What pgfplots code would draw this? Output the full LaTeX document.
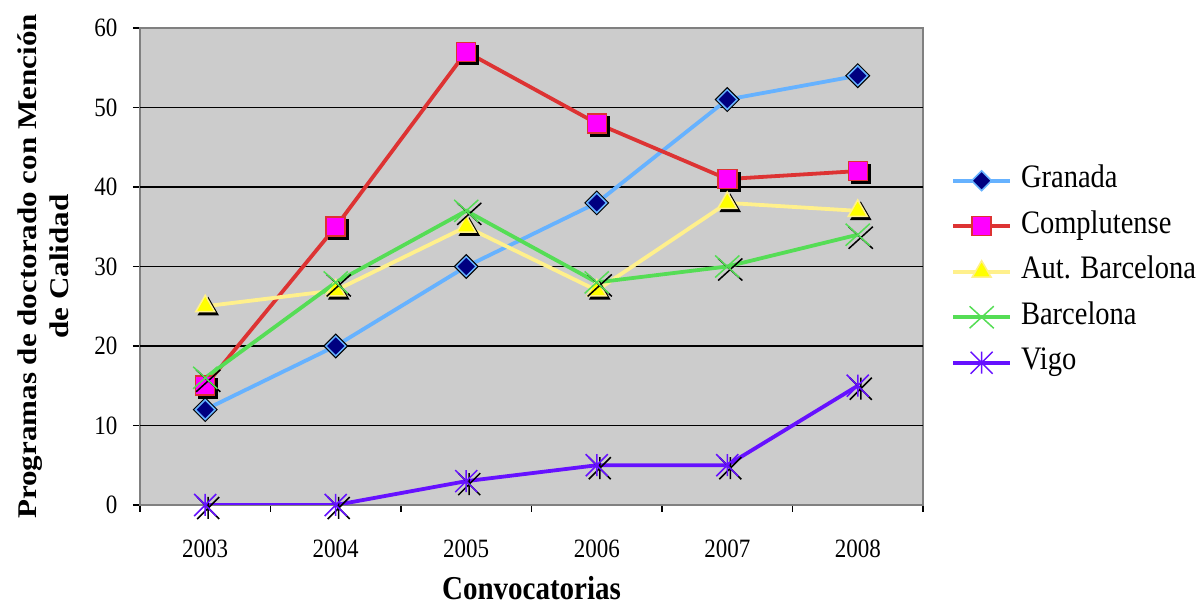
\documentclass[border=0pt]{standalone}
\usepackage{fontspec}
\setmainfont{Liberation Serif}
\usepackage{graphicx}
\usepackage{pgfplots}
\pgfplotsset{compat=1.18}

% Excel-like markers
\pgfdeclareplotmark{xstar}{%
  \pgfpathmoveto{\pgfqpoint{-\pgfplotmarksize}{-\pgfplotmarksize}}%
  \pgfpathlineto{\pgfqpoint{\pgfplotmarksize}{\pgfplotmarksize}}%
  \pgfpathmoveto{\pgfqpoint{-\pgfplotmarksize}{\pgfplotmarksize}}%
  \pgfpathlineto{\pgfqpoint{\pgfplotmarksize}{-\pgfplotmarksize}}%
  \pgfpathmoveto{\pgfqpoint{0pt}{-\pgfplotmarksize}}%
  \pgfpathlineto{\pgfqpoint{0pt}{\pgfplotmarksize}}%
  \pgfusepathqstroke}
\pgfdeclareplotmark{xcross}{%
  \pgfpathmoveto{\pgfqpoint{-1.1\pgfplotmarksize}{-\pgfplotmarksize}}%
  \pgfpathlineto{\pgfqpoint{1.1\pgfplotmarksize}{\pgfplotmarksize}}%
  \pgfpathmoveto{\pgfqpoint{-1.1\pgfplotmarksize}{\pgfplotmarksize}}%
  \pgfpathlineto{\pgfqpoint{1.1\pgfplotmarksize}{-\pgfplotmarksize}}%
  \pgfusepathqstroke}

\definecolor{granLine}{RGB}{102,178,255}
\definecolor{granFill}{RGB}{0,0,128}
\definecolor{compLine}{RGB}{221,51,51}
\definecolor{compFill}{RGB}{255,0,255}
\definecolor{autLine}{RGB}{255,240,140}
\definecolor{autFill}{RGB}{255,255,0}
\definecolor{barLine}{RGB}{85,221,85}
\definecolor{vigoLine}{RGB}{102,17,255}
\definecolor{plotbg}{RGB}{204,204,204}

% text in the reference is a bit taller than wide
\newcommand{\tall}[1]{\scalebox{1}[1.15]{#1}}

\pgfplotstableread{
x  gra com aut bar vig
0  12  15  25  16  0
1  20  35  27  28  0
2  30  57  35  37  3
3  38  48  27  28  5
4  51  41  38  30  5
5  54  42  37  34  15
}\datos

\pgfplotsset{
  shadow/.style={forget plot, only marks, draw=black, fill=black,
    mark options={xshift=3pt, yshift=-3pt, draw=black, fill=black, line width=1.5pt}},
}

\begin{document}
\begin{tikzpicture}
\useasboundingbox (-140pt,-100pt) rectangle (1063pt,505pt);
\begin{axis}[
    scale only axis,
    width=783pt, height=477pt,
    xmin=-0.5, xmax=5.5,
    ymin=0, ymax=60,
    xtick={0,...,5},
    xticklabels={\tall{2003},\tall{2004},\tall{2005},\tall{2006},\tall{2007},\tall{2008}},
    major x tick style={draw=none},
    minor xtick={-0.5,0.5,...,5.5},
    ytick={0,10,...,60},
    yticklabel={\tall{\pgfmathprintnumber{\tick}}},
    extra y ticks={10,20,30,40,50},
    extra y tick labels={},
    extra y tick style={grid=major, major tick length=0pt},
    grid style={black, line width=1.6pt},
    tick align=outside,
    major tick length=7pt, minor tick length=7pt,
    tick style={black, line width=1.6pt},
    xtick pos=bottom, ytick pos=left,
    axis line style={draw=gray, line width=1.6pt},
    axis background/.style={fill=plotbg},
    /pgf/number format/assume math mode=true,
    every tick label/.append style={font=\fontsize{23}{27}\selectfont},
    yticklabel style={xshift=-12pt},
    xticklabel style={yshift=-24pt},
    xlabel={\tall{Convocatorias}},
    xlabel style={font=\bfseries\fontsize{29}{34}\selectfont, at={(axis description cs:0.5,0)}, anchor=center, yshift=-83pt},
    ylabel={\scalebox{1.15}[1]{\begin{tabular}{@{}c@{}}Programas de doctorado con Mención\\de Calidad\end{tabular}}},
    ylabel style={font=\bfseries\fontsize{27}{32}\selectfont, at={(axis description cs:-0.12,0.5)}, anchor=center},
    legend style={draw=none, fill=none, at={(1.032,0.489)}, anchor=west,
      font=\fontsize{28.5}{34}\selectfont, row sep=19.5pt,
      nodes={inner sep=0pt, text height=20pt, text depth=6pt},
      /tikz/every odd column/.append style={column sep=9pt}},
    legend cell align=left,
    legend image code/.code={\draw[mark repeat=2, mark phase=2] plot coordinates {(0pt,0pt) (28.5pt,0pt) (57pt,0pt)};},
    every axis plot/.append style={line width=3.8pt},
]
% Granada
\addplot[shadow, mark=square*, mark size=7pt, mark options={rotate=45}] table[x=x, y=gra] {\datos};
\addplot[granLine, mark=square*, mark size=7pt, mark options={rotate=45, fill=granFill, draw=granLine, line width=1.5pt}] table[x=x, y=gra] {\datos};
\addlegendentry{\tall{Granada}}
% Complutense
\addplot[shadow, mark=square*, mark size=9.5pt] table[x=x, y=com] {\datos};
\addplot[compLine, mark=square*, mark size=9.5pt, mark options={fill=compFill, draw=compLine, line width=1.5pt}] table[x=x, y=com] {\datos};
\addlegendentry{\tall{Complutense}}
% Aut. Barcelona
\addplot[shadow, mark=triangle*, mark size=11pt] table[x=x, y=aut] {\datos};
\addplot[autLine, mark=triangle*, mark size=11pt, mark options={fill=autFill, draw=autLine, line width=1.5pt}] table[x=x, y=aut] {\datos};
\addlegendentry{\tall{Aut. Barcelona}}
% Barcelona
\addplot[shadow, mark=xcross, mark size=11pt] table[x=x, y=bar] {\datos};
\addplot[barLine, mark=xcross, mark size=11pt, mark options={draw=barLine, line width=1.5pt}] table[x=x, y=bar] {\datos};
\addlegendentry{\tall{Barcelona}}
% Vigo
\addplot[shadow, mark=xstar, mark size=11pt] table[x=x, y=vig] {\datos};
\addplot[vigoLine, mark=xstar, mark size=11pt, mark options={draw=vigoLine, line width=1.5pt}] table[x=x, y=vig] {\datos};
\addlegendentry{\tall{Vigo}}
\end{axis}
\end{tikzpicture}
\end{document}
